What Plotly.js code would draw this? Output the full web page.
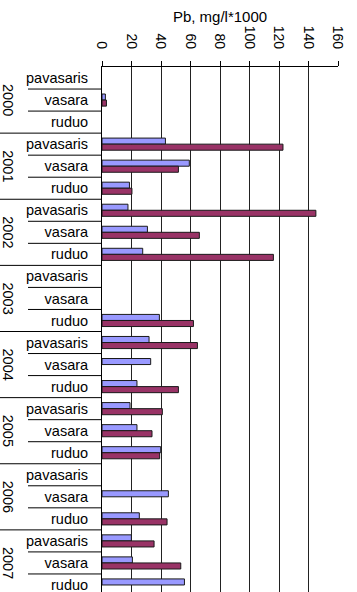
<!DOCTYPE html>
<html>
<head>
<meta charset="utf-8">
<script src="https://cdn.plot.ly/plotly-3.0.1.min.js"></script>
<style>
  html, body { margin: 0; padding: 0; overflow: hidden; background: #fff; }
  #chart { width: 357px; height: 596px; }
</style>
</head>
<body>
<div id="chart"></div>
<script>
// Lead concentration by year and season
const years = ['2000', '2001', '2002', '2003', '2004', '2005', '2006', '2007'];
const seasons = ['pavasaris', 'vasara', 'ruduo'];

// One value per (year, season), in year order: pavasaris, vasara, ruduo
const seriesA = [
  null, 2.3, null,
  43, 59.2, 18.6,
  17.6, 30.8, 27.6,
  null, null, 38.9,
  31.9, 33, 23.7,
  19, 23.7, 39.8,
  null, 45, 25.3,
  19.9, 20.6, 55.9
];
const seriesB = [
  null, 3, null,
  122.7, 51.8, 20.3,
  145, 66, 116.2,
  null, null, 62,
  64.7, null, 51.8,
  40.9, 33.9, 39.1,
  null, null, 44.1,
  35.3, 53.4, null
];

const xTicks = [0, 20, 40, 60, 80, 100, 120, 140, 160];

const FONT = 'Liberation Sans, Arial, sans-serif';
const W = 357, H = 596;
const margin = { l: 102, r: 19, t: 67, b: 0 };
const plotW = W - margin.l - margin.r;

// Row positions and their labels
const rowPos = [];
const rowText = [];
years.forEach((y, yi) => seasons.forEach((s, si) => {
  rowPos.push(yi * seasons.length + si);
  rowText.push(s);
}));

const barLine = { color: '#1a1a1a', width: 1 };
const traces = [
  { type: 'bar', orientation: 'h', name: 'A', x: seriesA, y: rowPos,
    marker: { color: '#9999FF', line: barLine }, hoverinfo: 'x' },
  { type: 'bar', orientation: 'h', name: 'B', x: seriesB, y: rowPos,
    marker: { color: '#993366', line: barLine }, hoverinfo: 'x' }
];

// Row separators in the label column: short ones inside a year, long ones between years
const shapes = [];
for (let i = 0; i < rowPos.length - 1; i++) {
  const yearEnd = (i + 1) % seasons.length === 0;
  shapes.push({
    type: 'line', xref: 'paper', yref: 'y',
    x0: yearEnd ? -margin.l / plotW : -(margin.l - 28) / plotW, x1: 0,
    y0: i + 0.5, y1: i + 0.5,
    line: { color: '#000', width: 1 }
  });
}

// Year labels, rotated, centred on their three rows
const annotations = years.map((y, yi) => ({
  text: y, xref: 'paper', yref: 'y',
  x: -(margin.l - 8) / plotW, y: yi * seasons.length + 1,
  textangle: 90, showarrow: false,
  xanchor: 'center', yanchor: 'middle',
  font: { family: FONT, size: 14.5, color: '#000' }
}));

const layout = {
  width: W, height: H,
  margin: margin,
  paper_bgcolor: '#fff', plot_bgcolor: '#fff',
  showlegend: false,
  barmode: 'group', bargap: 0.45, bargroupgap: 0,
  title: {
    text: 'Pb, mg/l*1000',
    font: { family: FONT, size: 15, color: '#000' },
    xref: 'paper', x: 0.5, xanchor: 'center',
    yref: 'container', y: 1 - 16.5 / H, yanchor: 'middle'
  },
  xaxis: {
    side: 'top', range: [0, 160], tickvals: xTicks,
    tickangle: 90, ticks: 'outside', ticklen: 5, tickcolor: '#000',
    ticklabelstandoff: 7,
    showgrid: true, gridcolor: '#222', gridwidth: 1,
    showline: true, linecolor: '#000', linewidth: 1,
    zeroline: false, fixedrange: true,
    tickfont: { family: FONT, size: 14, color: '#000' }
  },
  yaxis: {
    range: [rowPos.length - 0.5, -0.5],
    tickvals: rowPos, ticktext: rowText,
    ticks: '', ticklabelstandoff: 10,
    showgrid: false, zeroline: false,
    showline: true, linecolor: '#000', linewidth: 1,
    fixedrange: true,
    tickfont: { family: FONT, size: 14.5, color: '#000' }
  },
  shapes: shapes,
  annotations: annotations
};

Plotly.newPlot('chart', traces, layout, { displayModeBar: false, staticPlot: true });
</script>
</body>
</html>
